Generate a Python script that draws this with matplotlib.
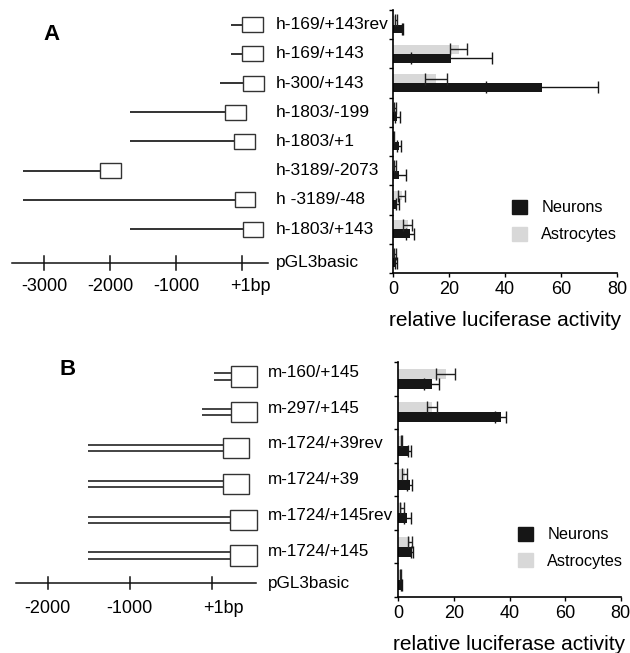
#Recreating the luciferase reporter figure (panel A human, panel B mouse)

import numpy as np
import matplotlib
matplotlib.use("Agg")
import matplotlib.pyplot as plt
from matplotlib.patches import Rectangle, Patch

plt.rcParams["font.family"] = ["Liberation Sans", "DejaVu Sans"]

#panel A data (top row first)
labels_A = ["h-169/+143rev", "h-169/+143", "h-300/+143", "h-1803/-199", "h-1803/+1",
            "h-3189/-2073", "h -3189/-48", "h-1803/+143", "pGL3basic"]
neurons_A = [3.4, 20.8, 53.3, 1.5, 2.2, 2.2, 1.6, 6.1, 1.0]
neurons_A_err = [0.3, 14.4, 20.0, 0.9, 0.6, 2.4, 0.6, 1.4, 0.3]
astro_A = [1.2, 23.4, 15.5, 0.6, 0.2, 0.6, 3.1, 5.2, 0.7]
astro_A_err = [0.4, 3.0, 3.9, 0.3, 0.1, 0.3, 1.3, 1.6, 0.3]

#construct drawings for A, in bp as drawn (line start, box start)
line_start_A = [-167, -167, -333, -1697, -1697, -3328, -3328, -1697]
box_start_A = [9, 9, 24, -253, -112, -2153, -107, 14]
scale_ticks_A = [-3000, -2000, -1000, 0]
scale_labels_A = ["-3000", "-2000", "-1000", "+1bp"]

#panel B data
labels_B = ["m-160/+145", "m-297/+145", "m-1724/+39rev", "m-1724/+39",
            "m-1724/+145rev", "m-1724/+145", "pGL3basic"]
neurons_B = [12.0, 36.8, 4.0, 4.2, 3.2, 4.8, 1.0]
neurons_B_err = [2.7, 2.1, 0.5, 0.9, 1.2, 0.4, 0.2]
astro_B = [17.0, 12.0, 1.2, 2.3, 1.4, 4.2, 0.8]
astro_B_err = [3.3, 1.8, 0.3, 0.8, 0.7, 0.8, 0.2]

line_start_B = [32, -122, -1505, -1505, -1512, -1512]
box_start_B = [235, 235, 134, 134, 223, 223]
scale_ticks_B = [-2000, -1000, 0]
scale_labels_B = ["-2000", "-1000", "+1bp"]

NEURON_COL = "#161616"
ASTRO_COL = "#d8d8d8"

W, H = 630, 653
fig = plt.figure(figsize=(W / 100, H / 100), dpi=100)


def px_axes(x0, y0, x1, y1):
    # axes from pixel box (top-left origin)
    return fig.add_axes([x0 / W, 1 - y1 / H, (x1 - x0) / W, (y1 - y0) / H])


def bar_panel(ax, neu, neu_err, ast, ast_err, legend_xy):
    n = len(neu)
    y = np.arange(n)
    h = 0.3
    ax.barh(y - h / 2, ast, height=h, color=ASTRO_COL, xerr=ast_err,
            error_kw=dict(ecolor="#222222", elinewidth=1, capsize=4, capthick=1))
    ax.barh(y + h / 2, neu, height=h, color=NEURON_COL, xerr=neu_err,
            error_kw=dict(ecolor=NEURON_COL, elinewidth=1, capsize=4, capthick=1))
    ax.set_ylim(n - 0.5, -0.5)
    ax.set_xlim(0, 80)
    ax.set_xticks([0, 20, 40, 60, 80])
    ax.set_yticks(np.arange(n + 1) - 0.5)
    ax.set_yticklabels([])
    ax.tick_params(axis="x", labelsize=13, length=3, width=1, pad=3)
    ax.tick_params(axis="y", length=3, width=1)
    for s in ["top", "right"]:
        ax.spines[s].set_visible(False)
    for s in ["left", "bottom"]:
        ax.spines[s].set_linewidth(1.2)
    ax.set_xlabel("relative luciferase activity", fontsize=15, labelpad=9)
    handles = [Patch(color=NEURON_COL, label="Neurons"),
               Patch(color=ASTRO_COL, label="Astrocytes")]
    ax.legend(handles=handles, loc="upper left", bbox_to_anchor=legend_xy,
              frameon=False, fontsize=11.7, handlelength=0.95, handleheight=0.95,
              handletextpad=0.85, labelspacing=0.7, borderpad=0, borderaxespad=0)


def construct_panel(ax, labels, line_start, box_start, box_w, box_h, double,
                    ticks, tick_labels, label_x, label_dy, label_fs, scale_y, tick_half,
                    tick_label_y, scale_x, plus_shift, n_rows):
    for i in range(len(line_start)):
        if double:
            for off in (-0.085, 0.085):
                ax.plot([line_start[i], box_start[i]], [i + off, i + off],
                        color="#111111", lw=1.1, solid_capstyle="butt")
        else:
            ax.plot([line_start[i], box_start[i]], [i, i],
                    color="#111111", lw=1.2, solid_capstyle="butt")
        ax.add_patch(Rectangle((box_start[i], i - box_h / 2), box_w, box_h,
                               facecolor="white", edgecolor="#333333", lw=1.0, zorder=3))
    for i, lab in enumerate(labels):
        yy = scale_y if i == n_rows - 1 else i + label_dy
        ax.text(label_x, yy, lab, fontsize=label_fs, va="center", ha="left")
    ax.plot(scale_x, [scale_y, scale_y], color="#111111", lw=1.1)
    for t, tl in zip(ticks, tick_labels):
        ax.plot([t, t], [scale_y - tick_half, scale_y + tick_half], color="#111111", lw=1.1)
        if tl.startswith("+"):
            ax.text(t - plus_shift, tick_label_y, tl, fontsize=13, ha="left", va="center")
        else:
            ax.text(t, tick_label_y, tl, fontsize=13, ha="center", va="center")
    ax.set_ylim(n_rows - 0.5, -0.5)
    ax.axis("off")


#panel A
axA_bar = px_axes(393, 10, 617, 273)
bar_panel(axA_bar, neurons_A, neurons_A_err, astro_A, astro_A_err, (0.531, 0.278))

axA_dia = px_axes(0, 10, 390, 273)
axA_dia.set_xlim(-3673, 2254)
construct_panel(axA_dia, labels_A, line_start_A, box_start_A, 315, 0.51, False,
                scale_ticks_A, scale_labels_A, 521, 0.0, 12.5, 8.15, 0.24, 8.95,
                [-3490, 403], 170, len(labels_A))
axA_dia.set_xlim(-3673, 2254)

#panel B
axB_bar = px_axes(398.3, 362, 620.7, 597)
bar_panel(axB_bar, neurons_B, neurons_B_err, astro_B, astro_B_err, (0.538, 0.30))

axB_dia = px_axes(0, 358.6, 390, 609.2)
construct_panel(axB_dia, labels_B, line_start_B, box_start_B, 323, 0.56, True,
                scale_ticks_B, scale_labels_B, 687, -0.12, 12.3, 5.77, 0.17, 6.47,
                [-2387, 540], 110, len(labels_B))
axB_dia.set_xlim(-2582, 2174)

fig.text(52 / W, 1 - 35 / H, "A", fontsize=16, fontweight="bold", ha="center", va="center")
fig.text(67.5 / W, 1 - 369 / H, "B", fontsize=16, fontweight="bold", ha="center", va="center")

fig.savefig("out.png", dpi=100)
